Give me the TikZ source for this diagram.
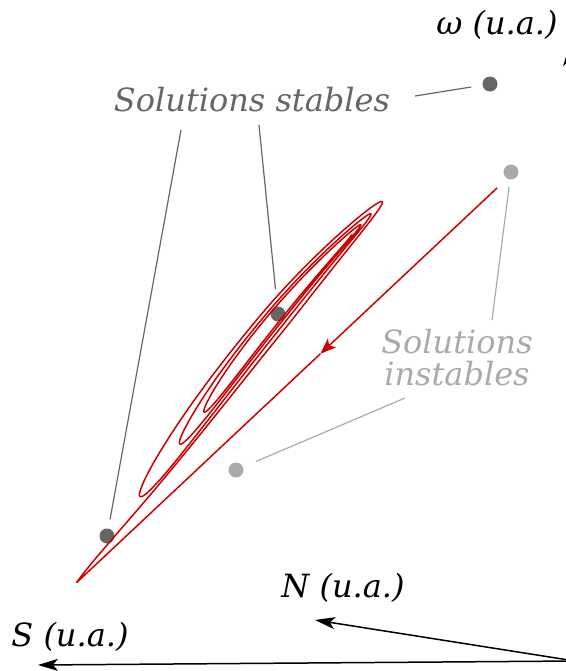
\documentclass[tikz,border=0pt]{standalone}
\usepackage{fontspec}
\setmainfont{DejaVu Serif}
\usetikzlibrary{arrows.meta,calc}
\definecolor{orbitred}{HTML}{CC0000}
\definecolor{stabgray}{HTML}{666666}
\definecolor{instgray}{HTML}{AAAAAA}

\begin{document}
\begin{tikzpicture}[x=0.5pt, y=-0.5pt,
  every node/.style={font=\fontsize{16}{16}\selectfont\itshape},
  axis/.style={line width=0.75pt, -{Stealth[length=10pt,width=6pt,inset=2.5pt]}},
  orbit/.style={draw=orbitred, line width=0.75pt},
  dotstab/.style={circle, fill=stabgray, inner sep=0pt, minimum size=7.5pt},
  dotinst/.style={circle, fill=instgray, inner sep=0pt, minimum size=7.5pt},
  leadstab/.style={draw=stabgray, line width=0.6pt},
  leadinst/.style={draw=instgray, line width=0.6pt},
  declare function={
    al(\t)=60+276*exp(-0.001373*(\t-180));
    au(\t)=153*exp(-0.000324*(\t-360));
    amp(\t)=cos(\t)*((cos(\t)>0)*au(\t)+(cos(\t)<0)*al(\t));
    hc(\t)=1-exp(-min(((\t-180)/40)^2,15));
    wb(\t)=-sin(\t)*16*exp(-0.00091*(\t-180))*(1-0.3*cos(\t))*hc(\t);
    ox(\t)=278+amp(\t)*(0.64+0.04*cos(\t))+0.78*wb(\t);
    oy(\t)=314-amp(\t)*(0.7675-0.0325*cos(\t))+0.625*wb(\t);
  }]
\useasboundingbox (0,0) rectangle (566,671);
\clip (0,0) rectangle (566,671);

% axes
\coordinate (O) at (575,661);
\coordinate (Stip) at (38,665);
\coordinate (Ntip) at (315,620);
\coordinate (Wtip) at (569,46);
\draw[axis] (O) -- (Stip);
\draw[axis] (O) -- (Ntip);
\draw[axis] (O) -- (Wtip);
\node (Slab) at (70,637) {S (u.a.)};
\node (Nlab) at (343,588) {N (u.a.)};
\node (Wlab) at (497,25) {ω (u.a.)};

% points fixes
\node[dotstab] (st1) at (490,84) {};
\node[dotstab] (st2) at (278,314) {};
\node[dotstab] (st3) at (107,536) {};
\node[dotinst] (in1) at (511,172) {};
\node[dotinst] (in2) at (236,470) {};

% trajectoire
\coordinate (tr0) at (497,188);
\coordinate (trs) at ({ox(180)},{oy(180)});
\coordinate (trm) at ($(tr0)!0.42!(trs)$);
\draw[orbit, -{Stealth[length=8pt,width=6pt,inset=2pt]}] (tr0) -- (trm);
\draw[orbit] (trm) -- plot[domain=180:1440, samples=631, variable=\t] ({ox(\t)},{oy(\t)});

% legendes
\node[text=stabgray] (stab) at (252,100) {Solutions stables};
\node[text=instgray, align=center] (inst) at (457,358) {Solutions\\instables};
\coordinate (ls1) at (415,96);
\coordinate (ls2) at (181,130);
\coordinate (ls3) at (259,125);
\coordinate (li1) at (492,320);
\coordinate (li2) at (405,398);
\draw[leadstab, shorten >=5.5pt] (ls1) -- (st1);
\draw[leadstab, shorten >=4.5pt] (ls2) -- (st3);
\draw[leadstab, shorten >=8.5pt] (ls3) -- (st2);
\draw[leadinst, shorten >=3.5pt] (li1) -- (in1);
\draw[leadinst, shorten >=7pt] (li2) -- (in2);
\end{tikzpicture}
\end{document}
